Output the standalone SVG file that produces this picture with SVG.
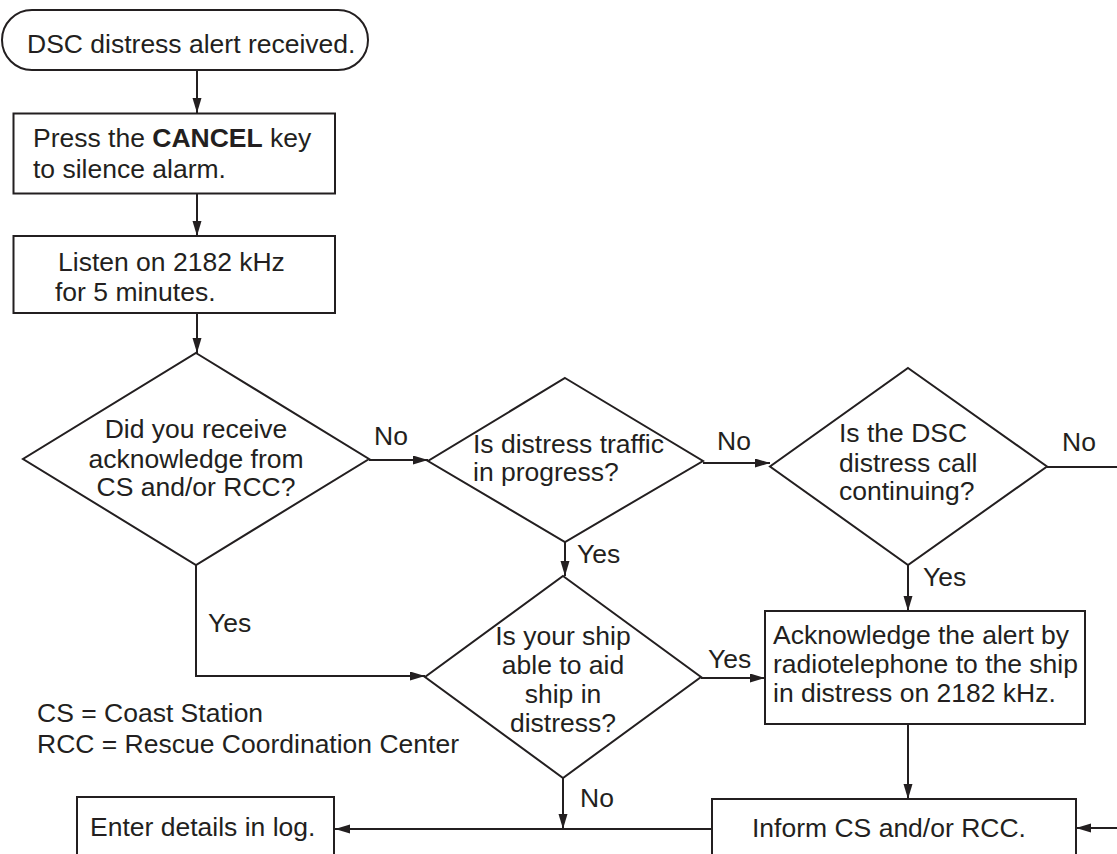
<svg xmlns="http://www.w3.org/2000/svg" width="1117" height="854" viewBox="0 0 1117 854">
<style>
.s{fill:#fff;stroke:#231f20;stroke-width:2}
.c{fill:none;stroke:#231f20;stroke-width:2}
text{font-family:"Liberation Sans",Arial,sans-serif;font-size:26.5px;fill:#231f20}
.m{text-anchor:middle}
</style>
<defs>
<marker id="ah" markerUnits="userSpaceOnUse" markerWidth="16" markerHeight="10" refX="15" refY="4.5" orient="auto">
<path d="M0,0 L15,4.5 L0,9 z" fill="#231f20"/>
</marker>
</defs>
<rect width="1117" height="854" fill="#fff"/>

<g id="start">
<rect class="s" x="2" y="10" width="366" height="60" rx="30" ry="30"/>
<text x="27" y="52.5">DSC distress alert received.</text>
</g>
<g id="cancel">
<rect class="s" x="13.5" y="113.5" width="321.5" height="80"/>
<text x="33" y="146.7">Press the <tspan font-weight="bold">CANCEL</tspan> key</text>
<text x="33" y="178.3">to silence alarm.</text>
</g>
<g id="listen">
<rect class="s" x="13.5" y="236" width="321.5" height="77"/>
<text x="58" y="270.7">Listen on 2182 kHz</text>
<text x="55" y="300.7">for 5 minutes.</text>
</g>
<g id="d1">
<polygon class="s" points="196,353 369,459 196,565 23,459"/>
<text class="m" x="196" y="438">Did you receive</text>
<text class="m" x="196" y="467.5">acknowledge from</text>
<text class="m" x="196" y="496">CS and/or RCC?</text>
</g>
<g id="d2">
<polygon class="s" points="565,378 703,461 565,542 428,461"/>
<text x="473" y="452.5">Is distress traffic</text>
<text x="473" y="481">in progress?</text>
</g>
<g id="d3">
<polygon class="s" points="908,368 1047,466.5 908,565 770,466.5"/>
<text x="839" y="442">Is the DSC</text>
<text x="839" y="472">distress call</text>
<text x="839" y="500">continuing?</text>
</g>
<g id="d4">
<polygon class="s" points="563,576 701,677 563,778 425,677"/>
<text class="m" x="563" y="645">Is your ship</text>
<text class="m" x="563" y="674">able to aid</text>
<text class="m" x="563" y="703">ship in</text>
<text class="m" x="563" y="732">distress?</text>
</g>
<g id="ack">
<rect class="s" x="765" y="611" width="320" height="113"/>
<text x="773" y="644">Acknowledge the alert by</text>
<text x="773" y="673">radiotelephone to the ship</text>
<text x="773" y="702">in distress on 2182 kHz.</text>
</g>
<g id="inform">
<rect class="s" x="712" y="799" width="364" height="80"/>
<text x="752" y="837">Inform CS and/or RCC.</text>
</g>
<g id="log">
<rect class="s" x="77" y="797" width="257" height="80"/>
<text x="90" y="836">Enter details in log.</text>
</g>
<g id="legend">
<text x="37" y="722">CS = Coast Station</text>
<text x="37" y="753">RCC = Rescue Coordination Center</text>
</g>

<g id="connectors">
<line class="c" x1="197" y1="70" x2="197" y2="113" marker-end="url(#ah)"/>
<line class="c" x1="197" y1="193.5" x2="197" y2="236" marker-end="url(#ah)"/>
<line class="c" x1="197" y1="313" x2="197" y2="353" marker-end="url(#ah)"/>
<line class="c" x1="369" y1="460" x2="428" y2="460" marker-end="url(#ah)"/>
<line class="c" x1="703" y1="463" x2="770" y2="463" marker-end="url(#ah)"/>
<line class="c" x1="1047" y1="467" x2="1117" y2="467"/>
<line class="c" x1="565" y1="542" x2="565" y2="576" marker-end="url(#ah)"/>
<line class="c" x1="908" y1="565" x2="908" y2="611" marker-end="url(#ah)"/>
<polyline class="c" points="196,565 196,676 425,676" marker-end="url(#ah)"/>
<line class="c" x1="701" y1="678" x2="765" y2="678" marker-end="url(#ah)"/>
<line class="c" x1="908" y1="724" x2="908" y2="799" marker-end="url(#ah)"/>
<line class="c" x1="563" y1="778" x2="563" y2="829" marker-end="url(#ah)"/>
<line class="c" x1="712" y1="829" x2="335" y2="829" marker-end="url(#ah)"/>
<line class="c" x1="1117" y1="828" x2="1076" y2="828" marker-end="url(#ah)"/>
<text x="374" y="445">No</text>
<text x="717" y="450">No</text>
<text x="1062" y="450.5">No</text>
<text x="577" y="563">Yes</text>
<text x="923" y="586">Yes</text>
<text x="208" y="632">Yes</text>
<text x="708" y="668">Yes</text>
<text x="580" y="807">No</text>
</g>
</svg>
